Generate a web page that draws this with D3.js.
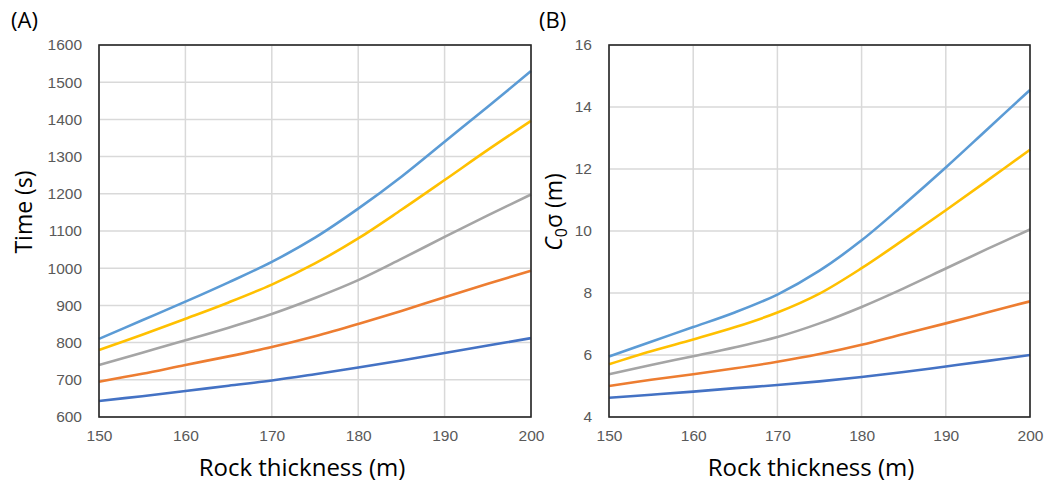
<!DOCTYPE html>
<html>
<head>
<meta charset="utf-8">
<script src="https://cdn.jsdelivr.net/npm/d3@7"></script>
<style>
  body { margin: 0; background: #fff; }
  svg { font-family: "Open Sans", Lato, sans-serif; }
  .tick text { fill: #595959; font-size: 15.5px; }
  .grid line { stroke: #d9d9d9; stroke-width: 1.5; }
</style>
</head>
<body>
<div id="chart"></div>
<script>
// thickness values (m)
const thickness = [150, 155, 160, 165, 170, 175, 180, 185, 190, 195, 200];

// panel A : time (s)
const timeS1 = [810, 860, 910, 962, 1017, 1082, 1160, 1246, 1340, 1434, 1530];
const timeS2 = [780, 821, 864, 908, 956, 1013, 1080, 1157, 1237, 1318, 1396];
const timeS3 = [740, 773, 806, 840, 877, 920, 968, 1025, 1084, 1142, 1198];
const timeS4 = [695, 716, 740, 763, 788, 817, 850, 885, 922, 958, 993];
const timeS5 = [643, 656, 670, 684, 698, 715, 733, 752, 772, 792, 812];

// panel B : C0 sigma (m)
const sigS1 = [5.95, 6.43, 6.9, 7.38, 7.95, 8.72, 9.7, 10.85, 12.05, 13.3, 14.55];
const sigS2 = [5.7, 6.12, 6.5, 6.9, 7.37, 7.98, 8.8, 9.72, 10.67, 11.64, 12.62];
const sigS3 = [5.38, 5.68, 5.96, 6.25, 6.58, 7.02, 7.55, 8.15, 8.79, 9.43, 10.05];
const sigS4 = [5.0, 5.2, 5.38, 5.57, 5.78, 6.03, 6.33, 6.68, 7.02, 7.38, 7.73];
const sigS5 = [4.62, 4.72, 4.82, 4.93, 5.03, 5.15, 5.29, 5.45, 5.63, 5.81, 6.0];

const colors = ["#5b9bd5", "#ffc000", "#a5a5a5", "#ed7d31", "#4472c4"];

const xTicks = [150, 160, 170, 180, 190, 200];
const yTicksA = [600, 700, 800, 900, 1000, 1100, 1200, 1300, 1400, 1500, 1600];
const yTicksB = [4, 6, 8, 10, 12, 14, 16];

const svg = d3.select("#chart").append("svg")
  .attr("width", 1056)
  .attr("height", 483);

function panel(opts) {
  const x = d3.scaleLinear().domain([150, 200]).range([opts.left, opts.right]);
  const y = d3.scaleLinear().domain(opts.yDomain).range([417, 45]);
  const g = svg.append("g");

  // grid
  g.append("g").attr("class", "grid")
    .selectAll("line.v").data(xTicks).enter().append("line")
    .attr("x1", d => x(d)).attr("x2", d => x(d))
    .attr("y1", 45).attr("y2", 417);
  g.append("g").attr("class", "grid")
    .selectAll("line.h").data(opts.yTicks).enter().append("line")
    .attr("x1", opts.left).attr("x2", opts.right)
    .attr("y1", d => y(d)).attr("y2", d => y(d));

  // axes (labels only, frame drawn below)
  const xAxis = g.append("g")
    .attr("transform", "translate(0,417)")
    .call(d3.axisBottom(x).tickValues(xTicks).tickSize(0).tickPadding(13)
      .tickFormat(d3.format("d")));
  xAxis.select(".domain").remove();

  const yAxis = g.append("g")
    .attr("transform", "translate(" + opts.left + ",0)")
    .call(d3.axisLeft(y).tickValues(opts.yTicks).tickSize(0).tickPadding(opts.yPad)
      .tickFormat(d3.format("d")));
  yAxis.select(".domain").remove();

  // lines
  const line = d3.line()
    .x((d, i) => x(thickness[i]))
    .y(d => y(d))
    .curve(d3.curveCatmullRom.alpha(0.5));

  g.selectAll("path.series").data(opts.series).enter().append("path")
    .attr("class", "series")
    .attr("d", d => line(d))
    .attr("fill", "none")
    .attr("stroke", (d, i) => colors[i])
    .attr("stroke-width", 2.6);

  // frame
  g.append("rect")
    .attr("x", opts.left).attr("y", 45)
    .attr("width", opts.right - opts.left).attr("height", 372)
    .attr("fill", "none")
    .attr("stroke", "#262626")
    .attr("stroke-width", 1.6);

  // panel tag
  g.append("text")
    .attr("x", opts.tagX).attr("y", 28)
    .attr("font-size", 22)
    .attr("fill", "#000")
    .text(opts.tag);

  // x title
  g.append("text")
    .attr("x", opts.xTitleX).attr("y", 476)
    .attr("text-anchor", "middle")
    .attr("font-size", 24)
    .attr("fill", "#000")
    .text("Rock thickness (m)");

  return g;
}

panel({
  left: 99, right: 531, yDomain: [600, 1600], yTicks: yTicksA, yPad: 17,
  series: [timeS1, timeS2, timeS3, timeS4, timeS5],
  tag: "(A)", tagX: 11, xTitleX: 302
});

panel({
  left: 609, right: 1030, yDomain: [4, 16], yTicks: yTicksB, yPad: 17,
  series: [sigS1, sigS2, sigS3, sigS4, sigS5],
  tag: "(B)", tagX: 539, xTitleX: 811
});

// y titles
svg.append("text")
  .attr("transform", "translate(32,212) rotate(-90)")
  .attr("text-anchor", "middle")
  .attr("font-size", 23)
  .attr("fill", "#000")
  .text("Time (s)");

const yb = svg.append("text")
  .attr("transform", "translate(562,212) rotate(-90)")
  .attr("text-anchor", "middle")
  .attr("font-size", 23)
  .attr("fill", "#000");
yb.append("tspan").attr("font-style", "italic").text("C");
yb.append("tspan").attr("font-size", 16).attr("dy", 5).text("0");
yb.append("tspan").attr("dy", -5).text("σ (m)");
</script>
</body>
</html>
